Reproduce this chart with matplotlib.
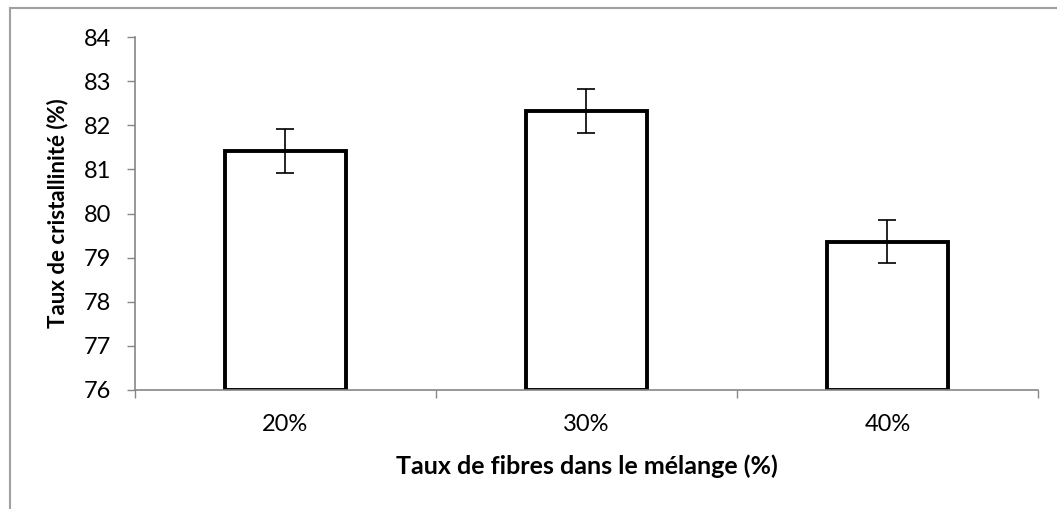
import matplotlib
matplotlib.use('Agg')
import matplotlib.pyplot as plt
import numpy as np
from matplotlib.lines import Line2D

categories = ['20%', '30%', '40%']
valeurs = [81.42, 82.33, 79.36]
erreurs = [0.50, 0.50, 0.49]
yticks = [76, 77, 78, 79, 80, 81, 82, 83, 84]

GRIS = '#868686'
plt.rcParams['font.family'] = ['Lato', 'DejaVu Sans']

fig = plt.figure(figsize=(10.57, 5.09), dpi=100)
ax = fig.add_axes([0.1277, 0.2338, 0.8543, 0.6935])

x = np.arange(len(categories))
ax.bar(x, [v - 76 for v in valeurs], bottom=76, width=0.40,
       facecolor='white', edgecolor='black', linewidth=2.8, zorder=2)
ax.errorbar(x, valeurs, yerr=erreurs, fmt='none', ecolor='black',
            elinewidth=1.2, capsize=6.5, capthick=1.2, zorder=3)

ax.set_xlim(-0.5, 2.5)
ax.set_ylim(76, 84)
ax.set_yticks(yticks)
ax.set_xticks(x)
ax.set_xticklabels(categories)
ax.set_xticks([-0.5, 0.5, 1.5, 2.5], minor=True)
ax.tick_params(axis='x', which='major', length=0, pad=17, labelsize=17)
ax.tick_params(axis='x', which='minor', length=6, color=GRIS, width=1)
ax.tick_params(axis='y', length=6, color=GRIS, width=1, labelsize=17, pad=11)

for cote in ['top', 'right']:
    ax.spines[cote].set_visible(False)
for cote in ['left', 'bottom']:
    ax.spines[cote].set_color(GRIS)
    ax.spines[cote].set_linewidth(1.2)
ax.spines['bottom'].set_zorder(4)

ax.set_xlabel('Taux de fibres dans le mélange (%)', fontsize=18, fontweight='bold', labelpad=14)
ax.set_ylabel('Taux de cristallinité (%)', fontsize=16, fontweight='bold', labelpad=11)

# bordure de la zone de graphique (coupee a droite et en bas)
fig.add_artist(Line2D([10 / 1057, 10 / 1057], [0, 1 - 8 / 509], transform=fig.transFigure,
                      color='#a0a0a0', linewidth=1.5))
fig.add_artist(Line2D([10 / 1057, 1], [1 - 8 / 509, 1 - 8 / 509], transform=fig.transFigure,
                      color='#a0a0a0', linewidth=1.5))

fig.savefig('out.png', dpi=100)
